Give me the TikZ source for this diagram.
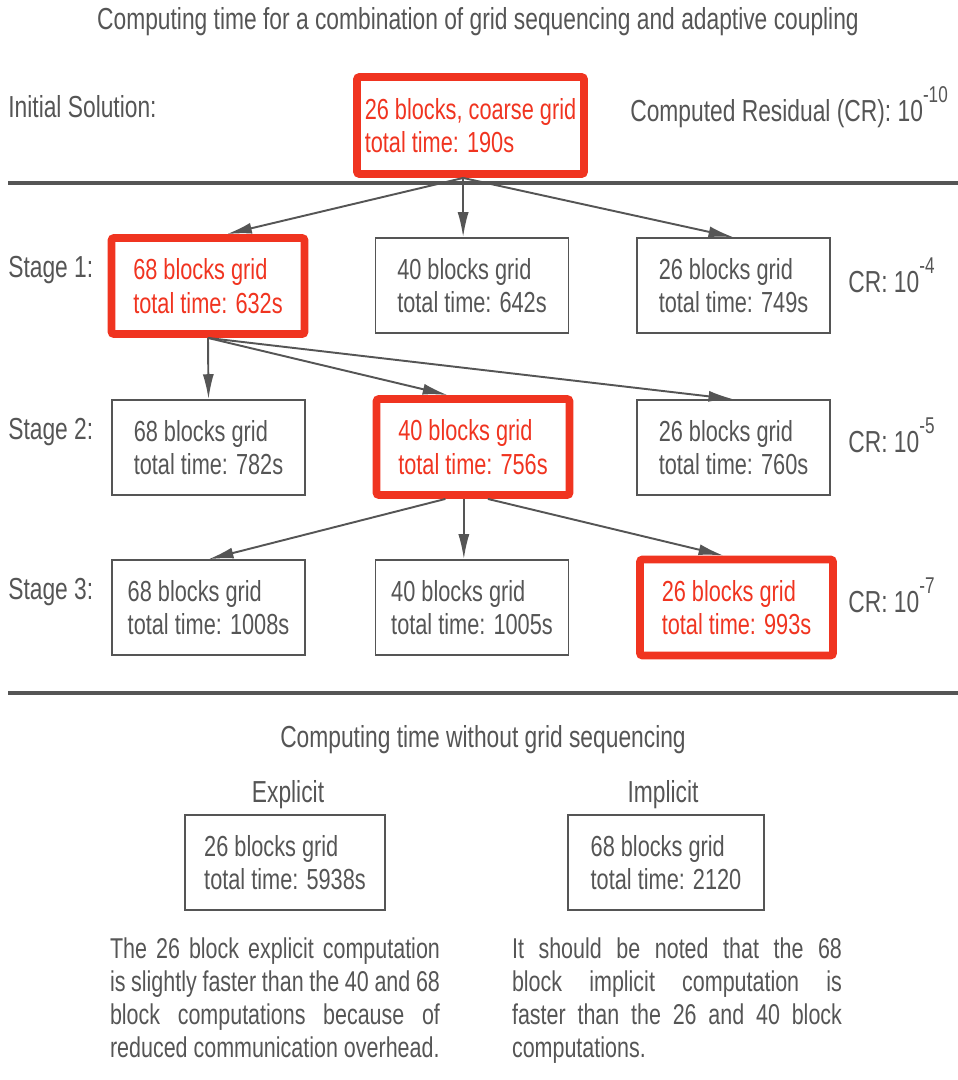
\documentclass[tikz,border=0pt]{standalone}
\usepackage{fontspec}
\setmainfont[FakeStretch=0.75]{Liberation Sans}
\usepackage{xcolor}
\usetikzlibrary{arrows.meta}
\tikzset{>={Latex[length=5mm,width=2.2mm]}}
\definecolor{boxred}{RGB}{240,52,32}
\definecolor{inkgray}{RGB}{85,85,85}
\newcommand{\expo}[1]{\raisebox{0.62em}{\fontsize{13}{13}\selectfont #1}}
\hyphenpenalty=10000
\exhyphenpenalty=10000

\begin{document}
\begin{tikzpicture}[x=0.02cm, y=-0.02cm, font=\fontsize{17.3}{19}\selectfont, text=inkgray, box/.style={draw=inkgray, line width=0.9pt, minimum width=3.86cm, minimum height=1.9cm, align=left, font=\fontsize{16.5}{19}\selectfont}, redbox/.style={draw=boxred, text=boxred, line width=4.5pt, rounded corners=1.5pt, minimum width=3.86cm, minimum height=1.92cm, align=left, font=\fontsize{16.5}{19}\selectfont}, rowtext/.style={anchor=west, inner sep=0pt}, para/.style={text width=6.6cm, align=justify, anchor=north, inner sep=0pt, font=\fontsize{16.3}{18.8}\selectfont}, sepline/.style={draw=inkgray, line width=2.2pt}, link/.style={->, draw=inkgray, line width=1.1pt}]

    \useasboundingbox (0,0) rectangle (958,1080);

    %Nodes
    \node(title) at (478,22){Computing time for a combination of grid sequencing and adaptive coupling};
    \node[rowtext](init_lbl) at (8,107){Initial Solution:};
    \node[redbox, minimum width=4.54cm, minimum height=1.94cm](init) at (470.5,125.5){26 blocks, coarse grid\\total time: 190s};
    \node[rowtext](cr_init) at (630,107){Computed Residual (CR): 10\expo{-10}};

    \node[rowtext](stage1) at (8,270){Stage 1:};
    \node[redbox](s1a) at (208,286){68 blocks grid\\total time: 632s};
    \node[box](s1b) at (472,285.5){40 blocks grid\\total time: 642s};
    \node[box](s1c) at (733.5,285.5){26 blocks grid\\total time: 749s};
    \node[rowtext](cr1) at (848,275){CR: 10\expo{-4}};

    \node[rowtext](stage2) at (8,432){Stage 2:};
    \node[box](s2a) at (208.5,447.5){68 blocks grid\\total time: 782s};
    \node[redbox](s2b) at (473,447){40 blocks grid\\total time: 756s};
    \node[box](s2c) at (733.5,447.5){26 blocks grid\\total time: 760s};
    \node[rowtext](cr2) at (848,435){CR: 10\expo{-5}};

    \node[rowtext](stage3) at (8,592){Stage 3:};
    \node[box](s3a) at (208.5,607.5){68 blocks grid\\total time: 1008s};
    \node[box](s3b) at (472,607.5){40 blocks grid\\total time: 1005s};
    \node[redbox](s3c) at (736.5,607.5){26 blocks grid\\total time: 993s};
    \node[rowtext](cr3) at (848,595){CR: 10\expo{-7}};

    \node(nogs) at (483,740){Computing time without grid sequencing};
    \node(explicit) at (288,795){Explicit};
    \node(implicit) at (663,795){Implicit};
    \node[box, minimum width=4cm](exp) at (285,862.5){26 blocks grid\\total time: 5938s};
    \node[box, minimum width=3.92cm](imp) at (666,862.5){68 blocks grid\\total time: 2120};
    \node[para](exp_note) at (275,937){The 26 block explicit computation\linebreak is slightly faster than the 40 and 68\linebreak block computations because of\linebreak reduced communication overhead.};
    \node[para](imp_note) at (677,937){It should be noted that the 68\linebreak block implicit computation is\linebreak faster than the 26 and 40 block\linebreak computations.};

    %Separators
    \draw[sepline] (8,183) -- (958,183);
    \draw[sepline] (8,693) -- (958,693);

    %Lines
    \draw[link] (init.262) -- (s1a.70);
    \draw[link] (init.262) -- (init.262 |- s1b.north);
    \draw[link] (init.262) -- (s1c.north);
    \draw[link] (s1a.south) -- (s2a.north);
    \draw[link] (s1a.south) -- (s2b.116);
    \draw[link] (s1a.south) -- (s2c.north);
    \draw[link] (s2b.242) -- (s3a.north);
    \draw[link] (s2b.260) -- (s2b.260 |- s3b.north);
    \draw[link] (s2b.286) -- (s3c.104);

\end{tikzpicture}
\end{document}
